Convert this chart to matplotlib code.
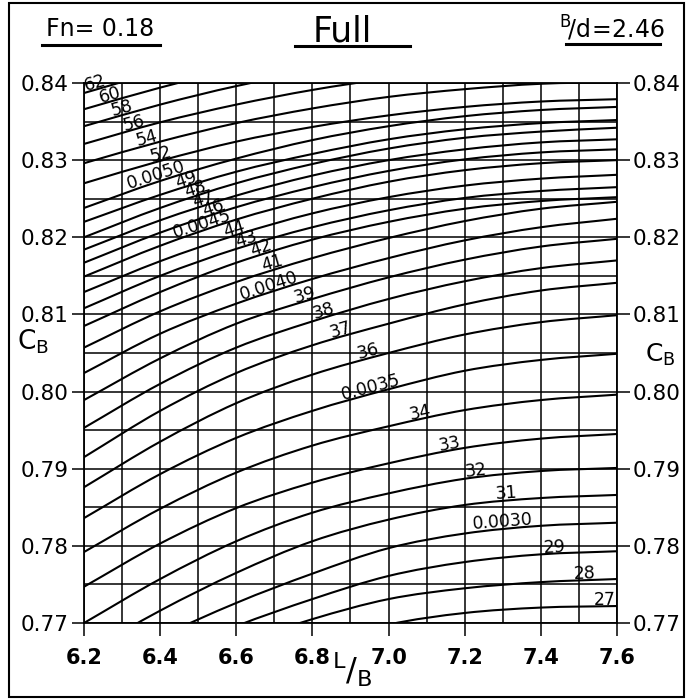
import numpy as np
import matplotlib
matplotlib.use("Agg")
import matplotlib.pyplot as plt
from matplotlib.path import Path
from matplotlib.patches import PathPatch, Rectangle
from matplotlib.lines import Line2D

# L/B stations at which each curve is tabulated
lb = [6.2, 6.4, 6.6, 6.8, 7.0, 7.2, 7.4, 7.6]

# CB along each constant-coefficient curve (label x 10^4)
cb_27 = [0.7555, 0.7598, 0.7637, 0.7671, 0.7698, 0.7713, 0.7720, 0.7722]
cb_28 = [0.7595, 0.7635, 0.7672, 0.7705, 0.7731, 0.7745, 0.7753, 0.7757]
cb_29 = [0.7612, 0.7655, 0.7696, 0.7731, 0.7761, 0.7779, 0.7789, 0.7793]
cb_30 = [0.7623, 0.7681, 0.7726, 0.7764, 0.7797, 0.7816, 0.7826, 0.7830]
cb_31 = [0.7660, 0.7716, 0.7765, 0.7806, 0.7834, 0.7853, 0.7862, 0.7866]
cb_32 = [0.7700, 0.7757, 0.7806, 0.7843, 0.7868, 0.7887, 0.7897, 0.7901]
cb_33 = [0.7747, 0.7803, 0.7849, 0.7882, 0.7907, 0.7927, 0.7939, 0.7945]
cb_34 = [0.7792, 0.7848, 0.7895, 0.7930, 0.7955, 0.7976, 0.7989, 0.7996]
cb_35 = [0.7836, 0.7893, 0.7940, 0.7975, 0.8003, 0.8027, 0.8041, 0.8049]
cb_36 = [0.7876, 0.7935, 0.7985, 0.8022, 0.8050, 0.8074, 0.8090, 0.8099]
cb_37 = [0.7915, 0.7975, 0.8024, 0.8060, 0.8088, 0.8113, 0.8131, 0.8141]
cb_38 = [0.7953, 0.8010, 0.8057, 0.8091, 0.8120, 0.8143, 0.8160, 0.8170]
cb_39 = [0.7989, 0.8043, 0.8088, 0.8120, 0.8148, 0.8171, 0.8188, 0.8198]
cb_40 = [0.8024, 0.8075, 0.8114, 0.8146, 0.8173, 0.8196, 0.8213, 0.8224]
cb_41 = [0.8057, 0.8104, 0.8142, 0.8173, 0.8199, 0.8221, 0.8237, 0.8246]
cb_42 = [0.8085, 0.8129, 0.8167, 0.8197, 0.8220, 0.8237, 0.8247, 0.8252]
cb_43 = [0.8108, 0.8150, 0.8185, 0.8213, 0.8235, 0.8251, 0.8260, 0.8265]
cb_44 = [0.8129, 0.8169, 0.8203, 0.8231, 0.8252, 0.8267, 0.8276, 0.8281]
cb_45 = [0.8149, 0.8189, 0.8223, 0.8250, 0.8272, 0.8287, 0.8296, 0.8300]
cb_46 = [0.8167, 0.8206, 0.8239, 0.8265, 0.8286, 0.8301, 0.8310, 0.8314]
cb_47 = [0.8184, 0.8222, 0.8254, 0.8280, 0.8300, 0.8314, 0.8323, 0.8327]
cb_48 = [0.8200, 0.8238, 0.8270, 0.8295, 0.8315, 0.8329, 0.8337, 0.8342]
cb_49 = [0.8220, 0.8255, 0.8285, 0.8308, 0.8327, 0.8340, 0.8348, 0.8352]
cb_50 = [0.8238, 0.8273, 0.8302, 0.8326, 0.8344, 0.8357, 0.8365, 0.8369]
cb_52 = [0.8270, 0.8299, 0.8324, 0.8343, 0.8358, 0.8369, 0.8376, 0.8379]
cb_54 = [0.8296, 0.8324, 0.8348, 0.8367, 0.8382, 0.8392, 0.8399, 0.8401]
cb_56 = [0.8321, 0.8349, 0.8372, 0.8391, 0.8406, 0.8417, 0.8423, 0.8426]
cb_58 = [0.8344, 0.8372, 0.8396, 0.8415, 0.8429, 0.8440, 0.8446, 0.8449]
cb_60 = [0.8366, 0.8394, 0.8418, 0.8437, 0.8451, 0.8462, 0.8468, 0.8471]
cb_62 = [0.8387, 0.8415, 0.8439, 0.8458, 0.8472, 0.8483, 0.8489, 0.8492]

curve_ids = [27, 28, 29, 30, 31, 32, 33, 34, 35, 36, 37, 38, 39, 40, 41,
             42, 43, 44, 45, 46, 47, 48, 49, 50, 52, 54, 56, 58, 60, 62]
curves = [cb_27, cb_28, cb_29, cb_30, cb_31, cb_32, cb_33, cb_34, cb_35,
          cb_36, cb_37, cb_38, cb_39, cb_40, cb_41, cb_42, cb_43, cb_44,
          cb_45, cb_46, cb_47, cb_48, cb_49, cb_50, cb_52, cb_54, cb_56,
          cb_58, cb_60, cb_62]

# curve labels written along the diagonal
label_curve = [62, 60, 58, 56, 54, 52, 50, 49, 48, 47, 46, 45, 44, 43, 42,
               41, 40, 39, 38, 37, 36, 35, 34, 33, 32, 31, 30, 29, 28, 27]
label_text = ["62", "60", "58", "56", "54", "52", "0.0050", "49", "48", "47",
              "46", "0.0045", "44", "43", "42", "41", "0.0040", "39", "38",
              "37", "36", "0.0035", "34", "33", "32", "31", "0.0030", "29",
              "28", "27"]
label_x = [6.232, 6.271, 6.302, 6.334, 6.368, 6.405, 6.394, 6.471, 6.497,
           6.518, 6.544, 6.513, 6.597, 6.631, 6.668, 6.699, 6.689, 6.783,
           6.833, 6.878, 6.949, 6.957, 7.085, 7.164, 7.232, 7.309, 7.301,
           7.437, 7.516, 7.569]

x_ticks = [6.2, 6.4, 6.6, 6.8, 7.0, 7.2, 7.4, 7.6]
y_ticks = [0.77, 0.78, 0.79, 0.80, 0.81, 0.82, 0.83, 0.84]

W, H = 687, 700


def smooth_path(xs, ys):
    # Catmull-Rom through the tabulated points, as cubic Bezier segments
    p = np.column_stack([xs, ys])
    ext = np.vstack([2 * p[0] - p[1], p, 2 * p[-1] - p[-2]])
    verts = [p[0]]
    codes = [Path.MOVETO]
    for i in range(len(p) - 1):
        p0, p1, p2, p3 = ext[i], ext[i + 1], ext[i + 2], ext[i + 3]
        verts += [p1 + (p2 - p0) / 6, p2 - (p3 - p1) / 6, p2]
        codes += [Path.CURVE4] * 3
    return Path(verts, codes)


fig = plt.figure(figsize=(W / 100, H / 100), dpi=100)
fig.patch.set_facecolor("white")
ax = fig.add_axes([84 / W, 77 / H, 533 / W, 540 / H])
ax.set_xlim(6.2, 7.6)
ax.set_ylim(0.77, 0.84)

ax.set_xticks(x_ticks)
ax.set_xticks(np.arange(6.2, 7.65, 0.1), minor=True)
ax.set_yticks(y_ticks)
ax.set_yticks(np.arange(0.77, 0.8425, 0.005), minor=True)
ax.set_xticklabels([f"{v:.1f}" for v in x_ticks])
ax.set_yticklabels([f"{v:.2f}" for v in y_ticks])
ax.grid(which="both", color="black", lw=1.1)
ax.tick_params(which="major", direction="out", length=9, width=1.1,
               labelsize=15.5, pad=2, right=True, labelright=True, top=False)
ax.tick_params(axis="x", which="major", labelsize=15, pad=9)
for t in ax.get_xticklabels():
    t.set_fontweight("bold")
ax.tick_params(which="minor", length=0)
for s in ax.spines.values():
    s.set_linewidth(1.3)

paths = {}
for cid, ys in zip(curve_ids, curves):
    path = smooth_path(lb, ys)
    paths[cid] = path
    ax.add_patch(PathPatch(path, fill=False, ec="black", lw=1.5,
                           capstyle="round", zorder=3))

for cid, txt, lx in zip(label_curve, label_text, label_x):
    poly = paths[cid].to_polygons(closed_only=False)[0]
    ly = np.interp(lx, poly[:, 0], poly[:, 1])
    ly2 = np.interp(lx + 0.02, poly[:, 0], poly[:, 1])
    ang = np.degrees(np.arctan2(ly2 - ly, 0.02))
    rot = ax.transData.transform_angles(np.array([ang]),
                                        np.array([[lx, ly]]))[0]
    ax.text(lx, ly + 0.0002, txt, fontsize=12.5, ha="center", va="baseline",
            rotation=rot, rotation_mode="anchor", zorder=4, clip_on=False)

# axis names
cb_label = r"$\mathregular{C_B}$"
fig.text(33 / W, 1 - 342 / H, cb_label, fontsize=19, ha="center", va="center")
fig.text(660 / W, 1 - 355 / H, cb_label, fontsize=18, ha="center", va="center")
fig.text(352 / W, 1 - 670 / H, r"$\mathregular{^L/_B}$", fontsize=23,
         ha="center", va="center")

# header
fig.text(100 / W, 1 - 29 / H, "Fn= 0.18", fontsize=17, ha="center",
         va="center")
fig.text(342 / W, 1 - 31 / H, "Full", fontsize=25, ha="center", va="center")
fig.text(612 / W, 1 - 28 / H, r"$\mathregular{^B\!/d\!=\!2.46}$", fontsize=17,
         ha="center", va="center")
for x0, x1, yy in [(42, 160, 45), (295, 410, 46), (566, 660, 44)]:
    fig.add_artist(Line2D([x0 / W, x1 / W], [1 - yy / H, 1 - yy / H],
                          color="black", lw=2.2))

# sheet border
fig.add_artist(Rectangle((9 / W, 3 / H), 675 / W, 694 / H, fill=False,
                         ec="black", lw=1.5, transform=fig.transFigure))

fig.savefig("out.png", dpi=100, facecolor="white")
